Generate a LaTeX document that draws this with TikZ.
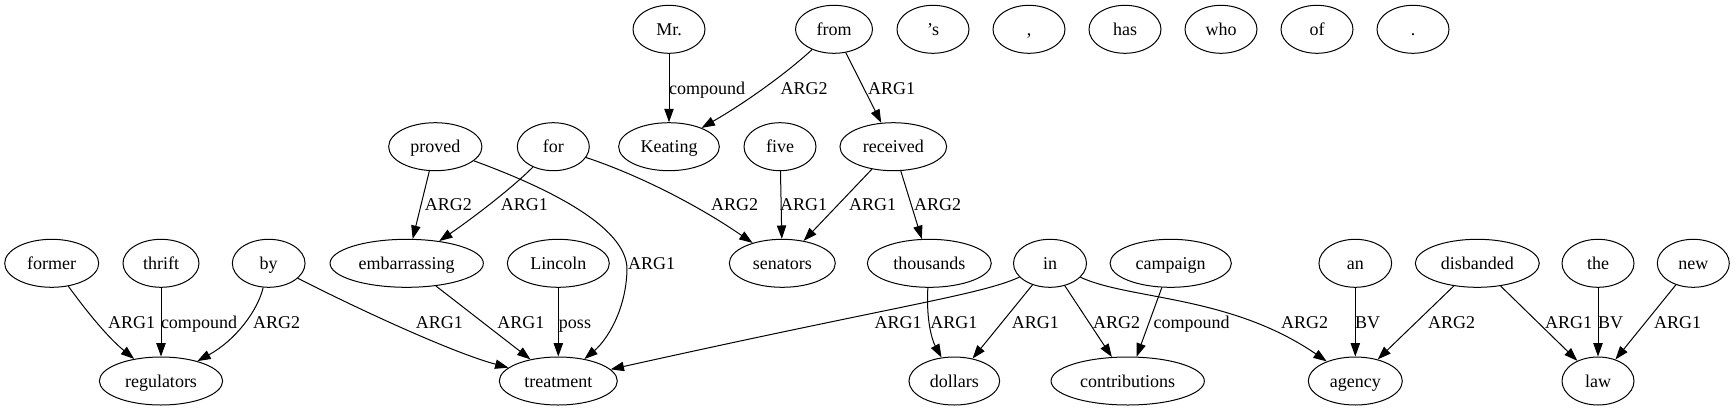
\documentclass[tikz,border=0pt]{standalone}
\usepackage{fontspec}
\setmainfont{Liberation Serif}
\usetikzlibrary{shapes.geometric,arrows.meta}
\begin{document}
\begin{tikzpicture}[x=0.75pt,y=-0.75pt,
  nd/.style={ellipse,draw,line width=0.75pt,minimum width={#1*0.75pt},minimum height=36pt,inner sep=0pt,
    font=\fontsize{13.5}{16}\selectfont,text height=9pt,text depth=0pt},
  nd/.default=72,
  ed/.style={line width=0.75pt,-{Triangle[length=10pt,width=7pt]}},
  lb/.style={font=\fontsize{13.5}{16}\selectfont,inner sep=0pt,anchor=center,text height=9pt,text depth=0pt}]
\useasboundingbox (0,0) rectangle (1736,411);
% top row
\node[nd] (nmr) at (669,29.3) {Mr.};
\node[nd=77] (nfrom) at (834,29.3) {from};
\node[nd] (ns) at (933,29.3) {’s};
\node[nd] (ncomma) at (1029,29.3) {,};
\node[nd] (nhas) at (1125,29.3) {has};
\node[nd] (nwho) at (1221,29.3) {who};
\node[nd] (nof) at (1317,29.3) {of};
\node[nd] (nperiod) at (1413,29.3) {.};
% second row
\node[nd=93.3] (nproved) at (435.3,146.7) {proved};
\node[nd] (nfor) at (553.3,146.7) {for};
\node[nd=100.7] (nkeating) at (669,146.7) {Keating};
\node[nd] (nfive) at (780,146.7) {five};
\node[nd=106.7] (nreceived) at (893.3,146.7) {received};
% third row
\node[nd=94] (nformer) at (51.7,263.3) {former};
\node[nd=76] (nthrift) at (161,263.3) {thrift};
\node[nd=72.7] (nby) at (268.7,263.3) {by};
\node[nd=153.3] (nembarrassing) at (406.7,263.3) {embarrassing};
\node[nd=102] (nlincoln) at (558.3,263.3) {Lincoln};
\node[nd=106] (nsenators) at (782.3,263.3) {senators};
\node[nd=124] (nthousands) at (929.3,263.3) {thousands};
\node[nd=73] (nin) at (1050,263.3) {in};
\node[nd=121.3] (ncampaign) at (1170.7,263.3) {campaign};
\node[nd=72.7] (nan) at (1355.3,263.3) {an};
\node[nd=124] (ndisbanded) at (1477.3,263.3) {disbanded};
\node[nd] (nthe) at (1598,263.3) {the};
\node[nd] (nnew) at (1693.3,263.3) {new};
% bottom row
\node[nd=123.3] (nregulators) at (161,381) {regulators};
\node[nd=118] (ntreatment) at (558.3,381) {treatment};
\node[nd=90.7] (ndollars) at (954.3,381) {dollars};
\node[nd=153.3] (ncontributions) at (1127.7,381) {contributions};
\node[nd=94] (nagency) at (1355.3,381) {agency};
\node[nd] (nlaw) at (1598,381) {law};
% edges
\draw[ed] (nformer) .. controls (82,305) and (105,335) .. (nregulators);
\draw[ed] (nthrift) -- (nregulators);
\draw[ed] (nby) .. controls (258,310) and (236,340) .. (nregulators);
\draw[ed] (nby) .. controls (350,305) and (450,352) .. (ntreatment);
\draw[ed] (nembarrassing) -- (ntreatment);
\draw[ed] (nlincoln) -- (ntreatment);
\draw[ed] (nproved) .. controls (540,185) and (628,225) .. (627,270) .. controls (626,310) and (607,340) .. (ntreatment);
\draw[ed] (nproved) -- (nembarrassing);
\draw[ed] (nfor) .. controls (510,190) and (470,220) .. (nembarrassing);
\draw[ed] (nfor) .. controls (630,172) and (690,200) .. (nsenators);
\draw[ed] (nmr) -- (nkeating);
\draw[ed] (nfrom) .. controls (790,70) and (750,100) .. (nkeating);
\draw[ed] (nfrom) -- (nreceived);
\draw[ed] (nfive) -- (nsenators);
\draw[ed] (nreceived) -- (nsenators);
\draw[ed] (nreceived) -- (nthousands);
\draw[ed] (nthousands) .. controls (926,320) and (932,340) .. (ndollars);
\draw[ed] (nin) .. controls (980,295) and (900,305) .. (ntreatment);
\draw[ed] (nin) -- (ndollars);
\draw[ed] (nin) -- (ncontributions);
\draw[ed] (ncampaign) -- (ncontributions);
\draw[ed] (nin) .. controls (1130,300) and (1230,295) .. (nagency);
\draw[ed] (nan) -- (nagency);
\draw[ed] (ndisbanded) -- (nagency);
\draw[ed] (ndisbanded) -- (nlaw);
\draw[ed] (nthe) -- (nlaw);
\draw[ed] (nnew) -- (nlaw);
% labels
\node[lb] (l1) at (131.7,322.7) {ARG1};
\node[lb] (l2) at (199,322.7) {compound};
\node[lb] (l3) at (276.7,322.7) {ARG2};
\node[lb] (l4) at (439.3,322.7) {ARG1};
\node[lb] (l5) at (520.8,322.7) {ARG1};
\node[lb] (l6) at (575,322.7) {poss};
\node[lb] (l7) at (651.5,263.3) {ARG1};
\node[lb] (l8) at (448.3,204) {ARG2};
\node[lb] (l9) at (524.3,204) {ARG1};
\node[lb] (l10) at (734.5,204) {ARG2};
\node[lb] (l11) at (707,88) {compound};
\node[lb] (l12) at (804.2,88) {ARG2};
\node[lb] (l13) at (891.5,88) {ARG1};
\node[lb] (l14) at (803.5,204) {ARG1};
\node[lb] (l15) at (872.5,204) {ARG1};
\node[lb] (l16) at (937.5,204) {ARG2};
\node[lb] (l17) at (953.8,322.7) {ARG1};
\node[lb] (l18) at (898,322.7) {ARG1};
\node[lb] (l19) at (1035.4,322.7) {ARG1};
\node[lb] (l20) at (1116.7,322.7) {ARG2};
\node[lb] (l21) at (1191.7,322.7) {compound};
\node[lb] (l22) at (1304.5,322.7) {ARG2};
\node[lb] (l23) at (1367.7,322.7) {BV};
\node[lb] (l24) at (1451.7,322.7) {ARG2};
\node[lb] (l25) at (1568.5,322.7) {ARG1};
\node[lb] (l26) at (1610.7,322.7) {BV};
\node[lb] (l27) at (1677.7,322.7) {ARG1};
\end{tikzpicture}
\end{document}
